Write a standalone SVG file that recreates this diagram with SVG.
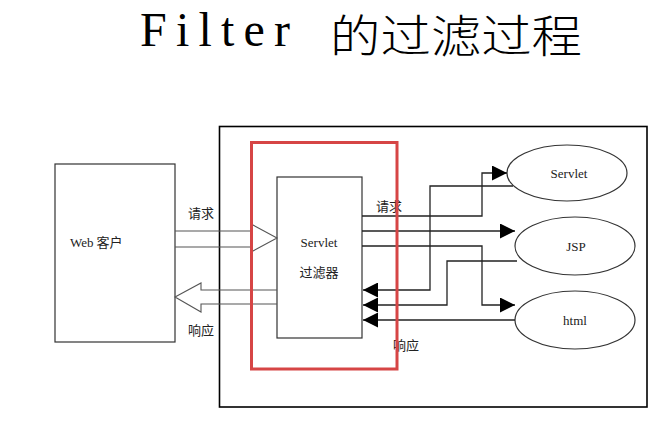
<svg xmlns="http://www.w3.org/2000/svg" width="667" height="428" viewBox="0 0 667 428">
<defs>
<style>
.box{fill:#fff;stroke:#333;stroke-width:1.2}
.ln{fill:none;stroke:#222;stroke-width:1.3}
.hl{fill:none;stroke:#555;stroke-width:1.1}
.t{font-family:"Liberation Serif","Noto Sans CJK SC",serif;font-size:13px;fill:#222}
.c{font-family:"Noto Sans CJK SC",sans-serif;font-size:13px;fill:#222}
</style>
<marker id="ah" viewBox="0 0 10 10" refX="10" refY="5" markerWidth="15" markerHeight="15" markerUnits="userSpaceOnUse" orient="auto">
<path d="M0,0 L10,5 L0,10 Z" fill="#000"/>
</marker>
</defs>
<rect width="667" height="428" fill="#fff"/>
<g id="title">
<text x="140" y="46" font-family="Liberation Serif,serif" font-size="48" textLength="150" lengthAdjust="spacing" fill="#000">Filter</text>
<text x="330" y="53" font-family="Noto Sans CJK SC,sans-serif" font-size="45" font-weight="300" textLength="252" lengthAdjust="spacingAndGlyphs" fill="#000">的过滤过程</text>
</g>
<g id="container"><rect x="219.5" y="126.5" width="427.5" height="280.5" fill="none" stroke="#000" stroke-width="1.6"/></g>
<g id="web-client">
<rect class="box" x="55" y="164" width="120" height="178"/>
<text class="t" x="70" y="247">Web<tspan class="c" dx="3">客户</tspan></text>
</g>
<g id="filter">
<rect class="box" x="277" y="177" width="85" height="161"/>
<text class="t" x="319" y="247" text-anchor="middle">Servlet</text>
<text class="c" x="319" y="277" text-anchor="middle">过滤器</text>
</g>
<g id="servlet">
<ellipse class="box" cx="567" cy="173" rx="60" ry="28"/>
<text class="t" x="569" y="178" text-anchor="middle">Servlet</text>
</g>
<g id="jsp">
<ellipse class="box" cx="575" cy="246" rx="60" ry="29"/>
<text class="t" x="576" y="251" text-anchor="middle">JSP</text>
</g>
<g id="html">
<ellipse class="box" cx="575" cy="320" rx="60" ry="29"/>
<text class="t" x="575" y="325" text-anchor="middle">html</text>
</g>
<g id="connectors">
<polyline class="hl" points="175,231 251,231 251,224 277,238 251,252 251,247 175,247"/>
<polyline class="hl" points="277,290 201,290 201,283 175,297 201,312 201,304 277,304"/>
<polyline class="ln" points="362,216 482,216 482,173 507,173" marker-end="url(#ah)"/>
<polyline class="ln" points="362,231 515,231" marker-end="url(#ah)"/>
<polyline class="ln" points="362,246 482,246 482,305 515,305" marker-end="url(#ah)"/>
<polyline class="ln" points="513,186 430,186 430,290 363,290" marker-end="url(#ah)"/>
<polyline class="ln" points="517,261 447,261 447,305 363,305" marker-end="url(#ah)"/>
<polyline class="ln" points="515,320 363,320" marker-end="url(#ah)"/>
</g>
<g id="labels">
<text class="c" x="188" y="218">请求</text>
<text class="c" x="188" y="335">响应</text>
<text class="c" x="376" y="211">请求</text>
<text class="c" x="393" y="350">响应</text>
</g>
<g id="highlight"><rect x="251.5" y="142.5" width="145.5" height="226.5" fill="none" stroke="#d64545" stroke-width="3"/></g>
</svg>
